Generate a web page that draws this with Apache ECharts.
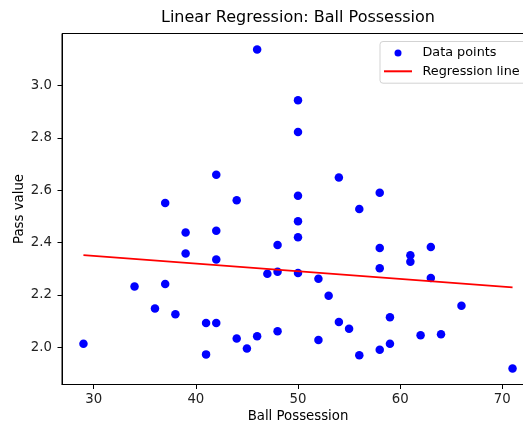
<!DOCTYPE html>
<html>
<head>
<meta charset="utf-8">
<script src="https://cdn.jsdelivr.net/npm/echarts@6/dist/echarts.min.js"></script>
<style>html,body{margin:0;padding:0;background:#fff;}#c{width:523px;height:427px;}</style>
</head>
<body>
<div id="c"></div>
<script>
const possession = [46,50,50,42,54,58,50,44,37,56,50,39,42,50,48,58,63,61,61,39,42,58,48,50,29,34,37,36,38,41,42,41,44,45,46,47,48,52,52,53,54,55,56,58,59,59,63,62,64,66,71];
const passValue = [3.137,2.943,2.822,2.659,2.648,2.590,2.579,2.561,2.551,2.528,2.481,2.438,2.445,2.420,2.391,2.379,2.383,2.351,2.327,2.358,2.335,2.302,2.288,2.284,2.014,2.232,2.242,2.148,2.126,2.093,2.093,1.973,2.034,1.995,2.042,2.281,2.061,2.262,2.028,2.197,2.097,2.071,1.970,1.991,2.115,2.014,2.265,2.046,2.050,2.159,1.919];
const lineX = [29, 71];
const lineY = [2.352, 2.229];
const xTicks = [30, 40, 50, 60, 70];
const yTicks = [2.0, 2.2, 2.4, 2.6, 2.8, 3.0];

const FONT = 'DejaVu Sans';
const FS = 13.3;
const chart = echarts.init(document.getElementById('c'), null, {renderer: 'canvas'});
const points = possession.map((x, i) => [x, passValue[i]]);
const linePts = lineX.map((x, i) => [x, lineY[i]]);

chart.setOption({
  animation: false,
  backgroundColor: '#fff',
  title: {
    text: 'Linear Regression: Ball Possession',
    left: 298, top: 9.5, textAlign: 'center', padding: 0,
    textStyle: {fontFamily: FONT, fontSize: 16, fontWeight: 'normal', color: '#000'}
  },
  legend: {
    orient: 'vertical', left: 380, top: 41.5, align: 'left',
    padding: [4, 12, 4.5, 3],
    itemWidth: 28, itemHeight: 7, itemGap: 3.6,
    borderColor: '#d3d3d3', borderWidth: 1, borderRadius: 3,
    backgroundColor: 'rgba(255,255,255,0.8)',
    textStyle: {fontFamily: FONT, fontSize: 12.8, color: '#000', lineHeight: 14.8, padding: [0, 0, 0, 5.5]},
    data: [{name: 'Data points', icon: 'circle'}, {name: 'Regression line', itemStyle: {opacity: 0}}]
  },
  grid: {
    left: 62, top: 33.5, width: 472, height: 351,
    outerBoundsMode: 'none', containLabel: false,
    show: true, borderColor: '#000', borderWidth: 1, backgroundColor: 'transparent'
  },
  xAxis: {
    type: 'value', min: 26.9, max: 73.1,
    name: 'Ball Possession', nameLocation: 'middle', nameGap: 26, nameMoveOverlap: false,
    nameTextStyle: {fontFamily: FONT, fontSize: FS, color: '#000'},
    axisLine: {show: true, onZero: false, lineStyle: {color: '#000', width: 1}},
    axisTick: {show: true, length: 4.5, lineStyle: {color: '#000'}, customValues: xTicks},
    axisLabel: {fontFamily: FONT, fontSize: FS, color: '#222', margin: 9, customValues: xTicks},
    splitLine: {show: false}
  },
  yAxis: {
    type: 'value', min: 1.858, max: 3.198,
    name: 'Pass value', nameLocation: 'middle', nameGap: 36, nameMoveOverlap: false,
    nameTextStyle: {fontFamily: FONT, fontSize: FS, color: '#000'},
    axisLine: {show: true, onZero: false, lineStyle: {color: '#000', width: 1}},
    axisTick: {show: true, length: 4.5, lineStyle: {color: '#000'}, customValues: yTicks},
    axisLabel: {fontFamily: FONT, fontSize: FS, color: '#222', margin: 10,
      customValues: yTicks, formatter: v => v.toFixed(1)},
    splitLine: {show: false}
  },
  series: [
    {
      name: 'Data points', type: 'scatter', data: points,
      symbol: 'circle', symbolSize: 8.5,
      itemStyle: {color: '#0000ff', opacity: 1}, z: 3
    },
    {
      name: 'Regression line', type: 'line', data: linePts,
      symbol: 'none', showSymbol: false,
      lineStyle: {color: '#ff0000', width: 1.7},
      itemStyle: {color: '#ff0000'}, z: 4
    }
  ]
});
</script>
</body>
</html>
